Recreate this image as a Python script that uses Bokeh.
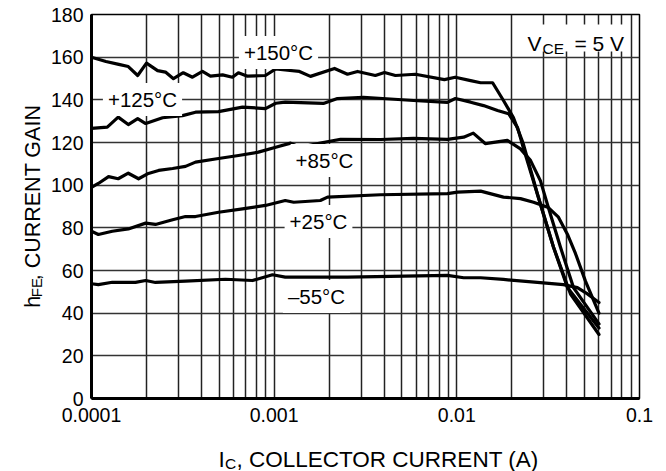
from bokeh.plotting import figure
from bokeh.layouts import column, row
from bokeh.models import FixedTicker, CustomJSTickFormatter, Label, BoxAnnotation, Range1d
from bokeh.embed import file_html
from bokeh.resources import INLINE

# ---------------- data ----------------
x_150 = [0.0001, 0.00012, 0.000141, 0.000159, 0.000179, 0.0002, 0.00023, 0.000254, 0.000281,
         0.000318, 0.000357, 0.000405, 0.000448, 0.000522, 0.000591, 0.000637, 0.000714,
         0.000896, 0.00102, 0.00115, 0.001375, 0.00158, 0.00214, 0.00252, 0.00286, 0.00358,
         0.00402, 0.00461, 0.00593, 0.00855, 0.0098, 0.0119, 0.0135, 0.0157, 0.018, 0.0204,
         0.0231, 0.0276, 0.0338, 0.0419, 0.06]
y_150 = [160, 158, 156.6, 155.6, 151.4, 157.2, 153.7, 153, 149.9,
         152.7, 150.6, 153.3, 151.1, 151.7, 150.6, 152.7, 151.1,
         151.4, 154.5, 154, 153.3, 151, 154.7, 152, 153.3, 151.4,
         152.8, 151.4, 152, 149.5, 150.6, 149, 148, 148, 139.7, 131.7,
         119.5, 96, 71, 49, 30]

x_125 = [0.0001, 0.000122, 0.00014, 0.000159, 0.000179, 0.000198, 0.000245, 0.000315, 0.000371,
         0.000496, 0.000671, 0.000896, 0.00102, 0.00115, 0.00186, 0.00222, 0.00308, 0.00579,
         0.00888, 0.00982, 0.0119, 0.014, 0.0167, 0.0192, 0.0215, 0.0231, 0.0259, 0.0294,
         0.0338, 0.0403, 0.06]
y_125 = [126.6, 127.2, 131.9, 128.4, 131.2, 128.9, 131.6, 132.6, 134.2,
         134.5, 136.6, 135.9, 138.4, 138.9, 138.3, 140.6, 141.2, 139.7,
         138.8, 140.6, 138.9, 137.3, 135, 133.5, 127, 117.6, 103.6, 88,
         71, 52, 33]

x_85 = [0.0001, 0.000109, 0.000124, 0.00014, 0.000159, 0.000181, 0.000205, 0.000233, 0.000278,
        0.000327, 0.000371, 0.000496, 0.000638, 0.00082, 0.00102, 0.00123, 0.00139, 0.00179,
        0.00231, 0.00382, 0.00579, 0.00888, 0.0109, 0.0123, 0.0143, 0.0189, 0.0223, 0.0253,
        0.0287, 0.0317, 0.0369, 0.0435, 0.06]
y_85 = [99, 100.8, 104, 103, 105.6, 103, 105.5, 106.9, 107.8,
        108.8, 110.8, 112.5, 113.9, 115.5, 117.8, 119.7, 117.7, 119.7,
        121.5, 121.4, 121.9, 121.5, 122.5, 124.4, 119.5, 121, 117, 111.6,
        102, 89.5, 71, 52, 35]

x_25 = [0.0001, 0.000109, 0.00013, 0.000159, 0.000198, 0.000224, 0.000278, 0.000327, 0.000371,
        0.000496, 0.000671, 0.000896, 0.00115, 0.00128, 0.00179, 0.00196, 0.00382, 0.00888,
        0.0101, 0.0135, 0.018, 0.0223, 0.0263, 0.0317, 0.036, 0.0403, 0.0446, 0.0506, 0.06]
y_25 = [78.4, 76.9, 78.4, 79.5, 82.2, 81.6, 83.8, 85.3, 85.3,
        87.3, 88.9, 90.5, 92.8, 92, 92.8, 94.4, 95.5, 96,
        96.7, 97.2, 94.4, 93.7, 92, 89.5, 85, 77, 68, 55, 40]

x_m55 = [0.0001, 0.000109, 0.00013, 0.000174, 0.000198, 0.000224, 0.000327, 0.000541, 0.000761,
         0.000979, 0.00115, 0.00252, 0.00888, 0.0109, 0.0135, 0.018, 0.0276, 0.0383, 0.0457,
         0.0519, 0.06]
y_m55 = [53.8, 53.4, 54.5, 54.4, 55.3, 54.4, 55, 55.9, 55.3,
         58, 56.9, 56.9, 57.7, 56.6, 56.6, 55.8, 54.4, 53.4, 52,
         49, 45]

x_major = [0.0001, 0.001, 0.01, 0.1]
x_minor = [m * d for d in (0.0001, 0.001, 0.01) for m in range(2, 10)]
y_ticks = [0, 20, 40, 60, 80, 100, 120, 140, 160, 180]

FONT = "Liberation Sans"

# layout geometry (canvas pixels)
YLAB_W = 45        # width of the strip holding the vertical axis title
MAIN_H = 432       # height of the main figure
TOTAL_W, TOTAL_H = 666, 471

# ---------------- main figure ----------------
p = figure(width=TOTAL_W - YLAB_W, height=MAIN_H, x_axis_type="log",
           x_range=(0.0001, 0.1), y_range=(0, 180), title=None,
           output_backend="svg", toolbar_location=None,
           min_border_left=91 - YLAB_W, min_border_right=27,
           min_border_top=14, min_border_bottom=MAIN_H - 398)
p.background_fill_color = "white"
p.border_fill_color = "white"
p.outline_line_color = "black"
p.outline_line_width = 1.5

xt = FixedTicker(ticks=x_major, minor_ticks=x_minor)
yt = FixedTicker(ticks=y_ticks)
p.xaxis.ticker = xt
p.yaxis.ticker = yt
p.xgrid.ticker = xt
p.ygrid.ticker = yt
p.xaxis.formatter = CustomJSTickFormatter(code="return tick.toString()")

for ax in (p.xaxis[0], p.yaxis[0]):
    ax.axis_line_width = 3
    ax.axis_line_color = "black"
    ax.major_tick_in = 0
    ax.major_tick_out = 0
    ax.minor_tick_in = 0
    ax.minor_tick_out = 0
    ax.major_label_text_font = FONT
    ax.major_label_text_font_size = "19.5px"
    ax.major_label_text_color = "black"
    ax.axis_label = None
p.xaxis.major_label_standoff = 9
p.yaxis.major_label_standoff = 8

p.xgrid.grid_line_color = "#222222"
p.xgrid.grid_line_width = 1.5
p.xgrid.minor_grid_line_color = "#222222"
p.xgrid.minor_grid_line_width = 1.5
p.ygrid.grid_line_color = "#333333"
p.ygrid.grid_line_width = 1.5

for xs, ys in ((x_150, y_150), (x_125, y_125), (x_85, y_85), (x_25, y_25), (x_m55, y_m55)):
    p.line(xs, ys, line_color="black", line_width=3.2, line_join="round", line_cap="round")


# helpers converting reference pixel positions to data coordinates (annotation placement only)
def px2x(cx):
    return 0.0001 * 10 ** ((cx - 91) / 182.67)


def px2y(cy):
    return (398 - cy) / (384 / 180)


# temperature labels with white boxes
temp_labels = [("+150°C", 278, 52), ("+125°C", 142, 99), ("+85°C", 324, 160),
               ("+25°C", 318, 221), ("–55°C", 316, 296)]
for txt, cx, cy in temp_labels:
    p.add_layout(Label(x=px2x(cx), y=px2y(cy), text=txt, text_font=FONT,
                       text_font_size="20.5px", text_color="black",
                       text_align="center", text_baseline="middle",
                       background_fill_color="white", padding=5))

# V_CE = 5 V label
p.add_layout(BoxAnnotation(left=px2x(523), right=px2x(627), top=px2y(24), bottom=px2y(51),
                           fill_color="white", fill_alpha=1.0, line_color=None))
p.add_layout(Label(x=px2x(527), y=px2y(43), text="V", text_font=FONT, text_font_size="21px",
                   text_align="left", text_baseline="alphabetic", text_color="black"))
p.add_layout(Label(x=px2x(542), y=px2y(48), text="CE", text_font=FONT, text_font_size="15.5px",
                   text_align="left", text_baseline="alphabetic", text_color="black"))
p.add_layout(Label(x=px2x(574), y=px2y(43), text="= 5 V", text_font=FONT, text_font_size="21px",
                   text_align="left", text_baseline="alphabetic", text_color="black"))


def text_strip(w, h, x0, y0):
    """A bare figure whose data coordinates equal canvas pixels (y downwards)."""
    f = figure(width=w, height=h, x_range=Range1d(x0, x0 + w),
               y_range=Range1d(y0 + h, y0), title=None,
               x_axis_type=None, y_axis_type=None, output_backend="svg",
               toolbar_location=None, min_border=0)
    f.outline_line_color = None
    f.grid.visible = False
    f.background_fill_color = "white"
    f.border_fill_color = "white"
    return f


# vertical axis title: h_FE, CURRENT GAIN
YSHIFT = 22
ylab = text_strip(YLAB_W, MAIN_H, 0, 0)
ang = 1.5707963267948966
ylab.add_layout(Label(x=32, y=308 + YSHIFT, text="h", text_font=FONT, text_font_size="21.5px",
                      angle=ang, text_align="left", text_baseline="alphabetic", text_color="black"))
ylab.add_layout(Label(x=36, y=296 + YSHIFT, text="FE", text_font=FONT, text_font_size="15px",
                      angle=ang, text_align="left", text_baseline="alphabetic", text_color="black"))
ylab.add_layout(Label(x=32, y=277 + YSHIFT, text=", CURRENT GAIN", text_font=FONT,
                      text_font_size="21.5px", angle=ang, text_align="left",
                      text_baseline="alphabetic", text_color="black"))

# horizontal axis title: I_C, COLLECTOR CURRENT (A)
xlab = text_strip(TOTAL_W, TOTAL_H - MAIN_H, 0, MAIN_H)
xlab.add_layout(Label(x=218, y=459, text="I", text_font=FONT, text_font_size="22.5px",
                      text_align="left", text_baseline="alphabetic", text_color="black"))
xlab.add_layout(Label(x=224.5, y=462.5, text="C", text_font=FONT, text_font_size="15.5px",
                      text_align="left", text_baseline="alphabetic", text_color="black"))
xlab.add_layout(Label(x=236, y=459, text=", COLLECTOR CURRENT (A)", text_font=FONT,
                      text_font_size="22.5px", text_align="left", text_baseline="alphabetic",
                      text_color="black"))

layout = column(row(ylab, p, spacing=0), xlab, spacing=0)

open("out.html", "w").write(file_html(layout, INLINE))
